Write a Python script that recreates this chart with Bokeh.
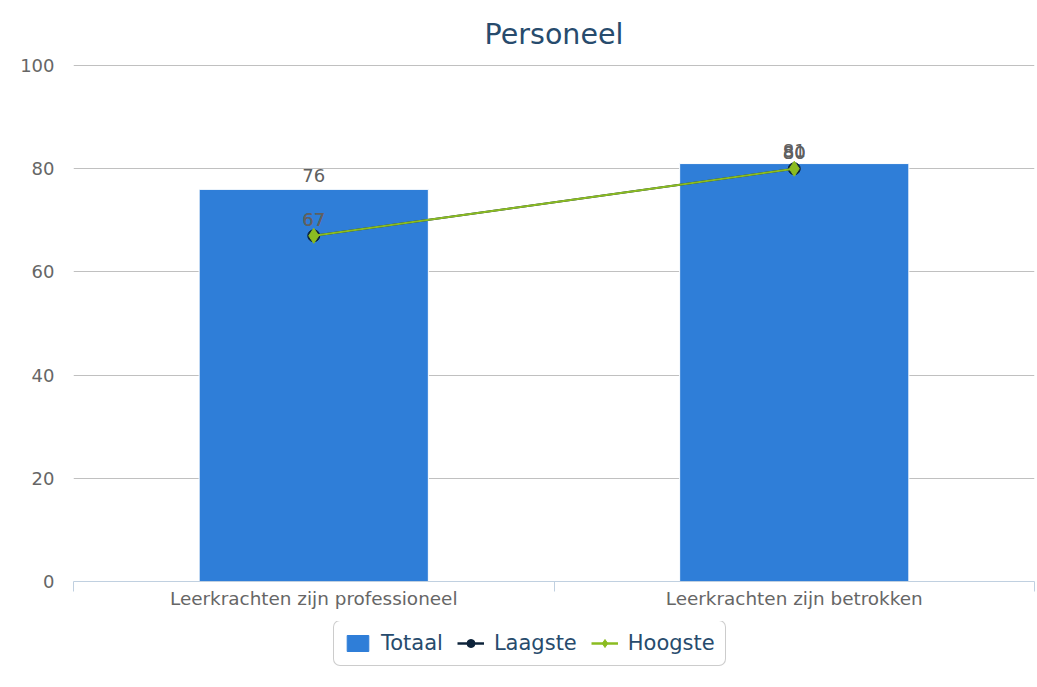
from bokeh.plotting import figure
from bokeh.layouts import column
from bokeh.models import (Range1d, FixedTicker, Legend, LegendItem, ColumnDataSource)
from bokeh.core.properties import value
from bokeh.embed import file_html
from bokeh.resources import INLINE

title = "Personeel"
categories = ["Leerkrachten zijn professioneel", "Leerkrachten zijn betrokken"]
totaal = [76, 81]
laagste = [67, 80]
hoogste = [67, 80]
y_ticks = [0, 20, 40, 60, 80, 100]
series_names = ["Totaal", "Laagste", "Hoogste"]

FONT = "DejaVu Sans"
BAR_C = "#2f7ed8"
LOW_C = "#0d233a"
HIGH_C = "#8bbc21"
xs = [i + 0.5 for i in range(len(categories))]

p = figure(width=1036, height=621, output_backend="svg", toolbar_location=None,
           x_range=Range1d(0, len(categories)), y_range=Range1d(0, 100.2),
           min_border_left=73, min_border_right=2, min_border_top=64, min_border_bottom=40)
p.outline_line_color = None
p.background_fill_color = "white"

p.title.text = title
p.title.align = "center"
p.title.text_font = FONT
p.title.text_font_size = "28.5px"
p.title.text_font_style = "normal"
p.title.text_color = "#274b6d"
p.title.standoff = 27

src = ColumnDataSource(dict(x=xs, totaal=totaal, laagste=laagste, hoogste=hoogste,
                            tl=[str(v) for v in totaal], ll=[str(v) for v in laagste],
                            hl=[str(v) for v in hoogste]))

p.vbar(x="x", top="totaal", width=0.477, source=src, fill_color=BAR_C,
       line_color="white", line_width=1)
p.line("x", "laagste", source=src, line_color=LOW_C, line_width=2)
p.scatter("x", "laagste", source=src, marker="circle", size=12,
          fill_color=LOW_C, line_color=LOW_C)
p.line("x", "hoogste", source=src, line_color=HIGH_C, line_width=2)
p.scatter("x", "hoogste", source=src, marker="diamond", size=15,
          fill_color=HIGH_C, line_color=HIGH_C)

for col, ycol, off in [("tl", "totaal", -7), ("ll", "laagste", -10), ("hl", "hoogste", -10)]:
    p.text("x", ycol, text=col, source=src, text_align="center", text_baseline="bottom",
           y_offset=off, text_font=value(FONT), text_font_size="18px", text_color="#606060")

# axes
p.xaxis.ticker = FixedTicker(ticks=xs, minor_ticks=list(range(len(categories) + 1)))
p.xaxis.major_label_overrides = {x: c for x, c in zip(xs, categories)}
p.xaxis.major_tick_line_color = None
p.xaxis.major_tick_out = 0
p.xaxis.major_tick_in = 0
p.xaxis.minor_tick_line_color = "#c0d0e0"
p.xaxis.minor_tick_out = 10
p.xaxis.minor_tick_in = 0
p.xaxis.axis_line_color = "#c0d0e0"
p.xaxis.major_label_text_font = FONT
p.xaxis.major_label_text_font_size = "18.4px"
p.xaxis.major_label_text_color = "#666666"
p.xaxis.major_label_standoff = -4
p.xgrid.grid_line_color = None

p.yaxis.ticker = FixedTicker(ticks=y_ticks)
p.yaxis.axis_line_color = None
p.yaxis.major_tick_line_color = None
p.yaxis.minor_tick_line_color = None
p.yaxis.major_label_text_font = FONT
p.yaxis.major_label_text_font_size = "18px"
p.yaxis.major_label_text_color = "#666666"
p.yaxis.major_label_standoff = 13
p.ygrid.grid_line_color = "#c0c0c0"
p.ygrid.grid_line_width = 1

# legend strip below the chart
q = figure(width=1036, height=65, output_backend="svg", toolbar_location=None,
           x_range=Range1d(0, 1), y_range=Range1d(0, 1),
           x_axis_location=None, y_axis_location=None,
           min_border_left=0, min_border_right=0, min_border_top=0, min_border_bottom=0)
q.outline_line_color = None
q.xgrid.grid_line_color = None
q.ygrid.grid_line_color = None
lb = q.vbar(x=[-5], top=[-5], width=1, fill_color=BAR_C, line_color=BAR_C)
ll1 = q.line(x=[-5, -4], y=[-5, -4], line_color=LOW_C, line_width=2.5)
ls1 = q.scatter(x=[-5], y=[-5], marker="circle", size=10, fill_color=LOW_C, line_color=LOW_C)
ll2 = q.line(x=[-5, -4], y=[-5, -4], line_color=HIGH_C, line_width=2.5)
ls2 = q.scatter(x=[-5], y=[-5], marker="diamond", size=12, fill_color=HIGH_C, line_color=HIGH_C)

legend = Legend(items=[LegendItem(label=series_names[0], renderers=[lb]),
                       LegendItem(label=series_names[1], renderers=[ll1, ls1]),
                       LegendItem(label=series_names[2], renderers=[ll2, ls2])],
                orientation="horizontal", location=(260, 20))
legend.label_text_font = FONT
legend.label_text_font_size = "21px"
legend.label_text_color = "#274b6d"
legend.border_line_color = "#999999"
legend.border_line_width = 1.5
legend.border_radius = 7
legend.glyph_width = 27
legend.glyph_height = 20
legend.label_standoff = 10
legend.spacing = 14
legend.padding = 10
legend.margin = 0
q.add_layout(legend, "center")

layout = column(p, q, spacing=0)
open("out.html", "w").write(file_html(layout, INLINE))
